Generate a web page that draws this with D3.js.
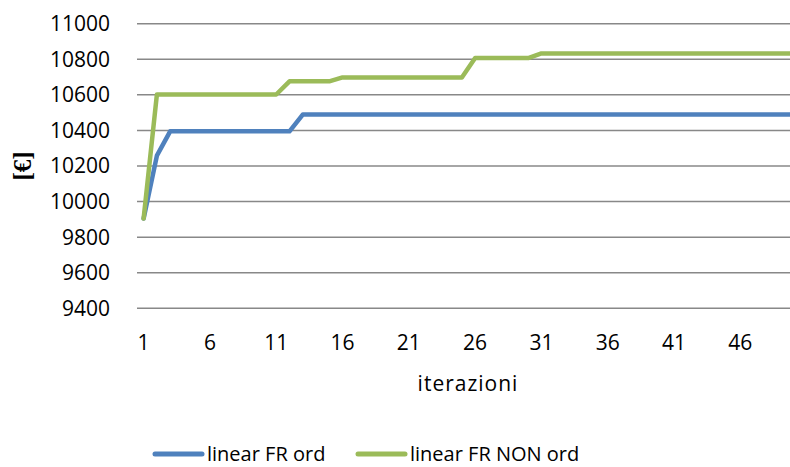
<!DOCTYPE html>
<html>
<head>
<meta charset="utf-8">
<script src="https://cdn.jsdelivr.net/npm/d3@7"></script>
<style>
  body { margin: 0; background: #fff; }
  text { font-family: "Open Sans", sans-serif; fill: #000; }
</style>
</head>
<body>
<svg id="chart" width="790" height="467"></svg>
<script>
// Iterations 1..50
const iterations = d3.range(1, 51);

// Series values
const linearOrd = [9905, 10258, 10395, 10395, 10395, 10395, 10395, 10395, 10395, 10395,
                   10395, 10395, 10489, 10489, 10489, 10489, 10489, 10489, 10489, 10489,
                   10489, 10489, 10489, 10489, 10489, 10489, 10489, 10489, 10489, 10489,
                   10489, 10489, 10489, 10489, 10489, 10489, 10489, 10489, 10489, 10489,
                   10489, 10489, 10489, 10489, 10489, 10489, 10489, 10489, 10489, 10489];

const linearNonOrd = [9905, 10602, 10602, 10602, 10602, 10602, 10602, 10602, 10602, 10602,
                      10602, 10676, 10676, 10676, 10676, 10698, 10698, 10698, 10698, 10698,
                      10698, 10698, 10698, 10698, 10698, 10807, 10807, 10807, 10807, 10807,
                      10833, 10833, 10833, 10833, 10833, 10833, 10833, 10833, 10833, 10833,
                      10833, 10833, 10833, 10833, 10833, 10833, 10833, 10833, 10833, 10833];

const yTicks = [9400, 9600, 9800, 10000, 10200, 10400, 10600, 10800, 11000];
const xTickLabels = [1, 6, 11, 16, 21, 26, 31, 36, 41, 46];

const seriesNames = ["linear FR ord", "linear FR NON ord"];
const seriesColors = ["#4F81BD", "#9BBB59"];

const svg = d3.select("#chart");

// Plot area (right edge runs past the window like the original)
const plotLeft = 137, plotRight = 800, plotTop = 23.7, plotBottom = 308.3;

const x = d3.scaleBand()
  .domain(iterations)
  .range([plotLeft, plotRight]);

const y = d3.scaleLinear()
  .domain([9400, 11000])
  .range([plotBottom, plotTop]);

// Gridlines
svg.append("g")
  .selectAll("line")
  .data(yTicks)
  .join("line")
    .attr("x1", plotLeft)
    .attr("x2", plotRight)
    .attr("y1", d => y(d))
    .attr("y2", d => y(d))
    .style("stroke", "#888")
    .style("stroke-width", 1.5);

// Y axis labels
svg.append("g")
  .selectAll("text")
  .data(yTicks)
  .join("text")
    .attr("x", 110)
    .attr("y", d => y(d))
    .attr("dy", "0.35em")
    .attr("text-anchor", "end")
    .style("font-size", "21px")
    .text(d => d);

// X axis labels
svg.append("g")
  .selectAll("text")
  .data(xTickLabels)
  .join("text")
    .attr("x", d => x(d) + x.bandwidth() / 2)
    .attr("y", 350)
    .attr("text-anchor", "middle")
    .style("font-size", "21px")
    .text(d => d);

// Axis titles
svg.append("text")
  .attr("x", 468)
  .attr("y", 391)
  .attr("text-anchor", "middle")
  .style("font-size", "21px")
  .style("letter-spacing", "1px")
  .text("iterazioni");

svg.append("text")
  .attr("transform", "translate(22,166) rotate(-90)")
  .attr("dy", "0.35em")
  .attr("text-anchor", "middle")
  .style("font-size", "25px")
  .style("font-weight", "bold")
  .style("font-family", "'Liberation Serif', serif")
  .text("[€]");

// Lines
const line = d3.line()
  .x((d, i) => x(iterations[i]) + x.bandwidth() / 2)
  .y(d => y(d));

[linearOrd, linearNonOrd].forEach((series, i) => {
  svg.append("path")
    .datum(series)
    .attr("d", line)
    .style("fill", "none")
    .style("stroke", seriesColors[i])
    .style("stroke-width", 4.5)
    .style("stroke-linejoin", "round")
    .style("stroke-linecap", "round");
});

// Legend
const legendX = [155, 358];
seriesNames.forEach((name, i) => {
  let g = svg.append("g").attr("transform", `translate(${legendX[i]},454)`);
  g.append("line")
    .attr("x1", 0)
    .attr("x2", 47)
    .style("stroke", seriesColors[i])
    .style("stroke-width", 5)
    .style("stroke-linecap", "round");
  g.append("text")
    .attr("x", 52)
    .attr("dy", "0.33em")
    .style("font-size", "20px")
    .text(name);
});
</script>
</body>
</html>
